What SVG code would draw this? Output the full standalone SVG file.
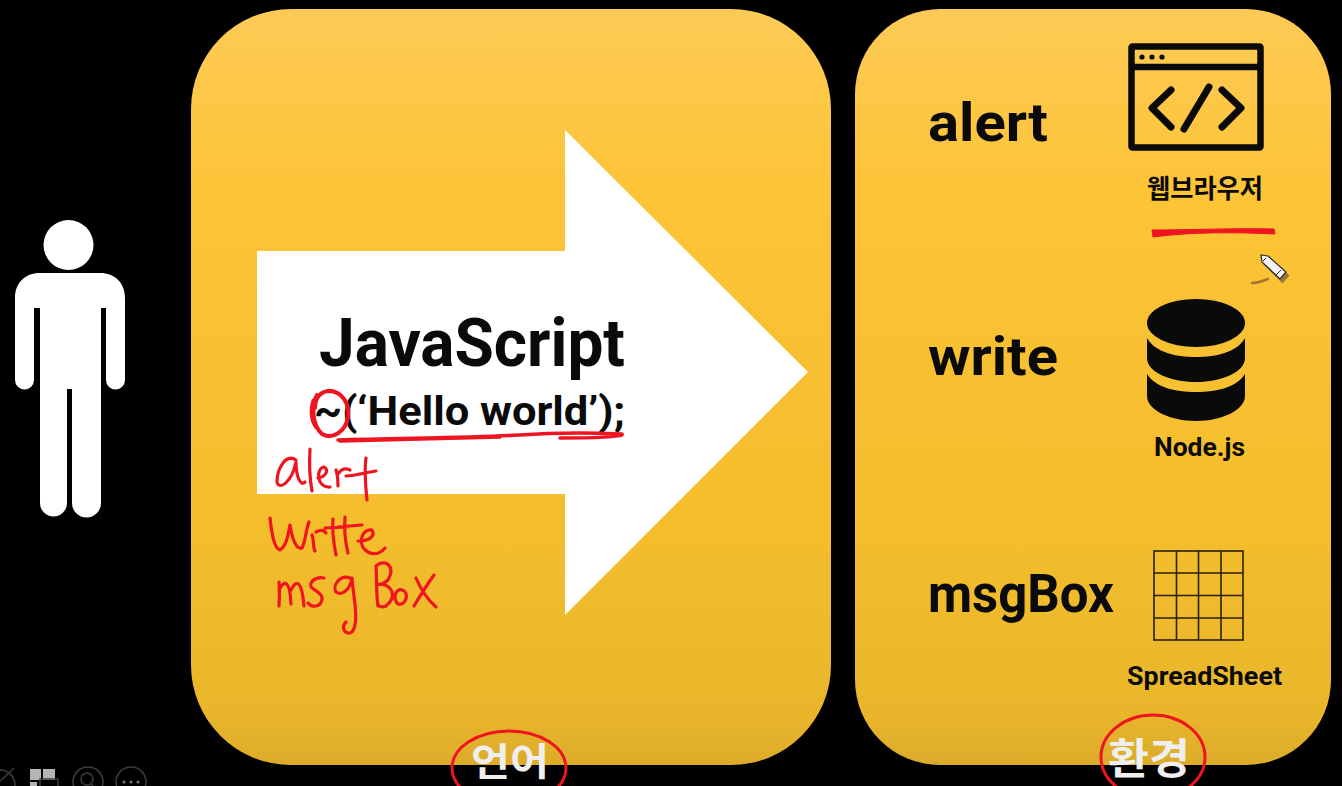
<svg xmlns="http://www.w3.org/2000/svg" width="1342" height="786" viewBox="0 0 1342 786">
<style>
.t{font-family:"Roboto","Liberation Sans",sans-serif;font-weight:700;fill:#0a0a0a}
.k{font-family:"Noto Sans CJK KR","Noto Sans",sans-serif;font-weight:700}
.ink{fill:none;stroke:#ee1420;stroke-linecap:round;stroke-linejoin:round}
.ui{fill:none;stroke:#3d3d3d;stroke-width:1.5}
</style>
<defs>
<linearGradient id="g" x1="0" y1="0" x2="0" y2="1">
<stop offset="0" stop-color="#fdca56"/><stop offset="0.25" stop-color="#fdc436"/><stop offset="0.7" stop-color="#f3bd2c"/><stop offset="0.93" stop-color="#e9b62b"/><stop offset="1" stop-color="#dcab2a"/>
</linearGradient>
</defs>
<rect width="1342" height="786" fill="#000"/>
<g id="person" fill="#fff">
<circle cx="68.500" cy="245" r="25"/>
<path d="M40 273H100C115 273 125 283 125 298V380A9.500 9.500 0 0 1 106 380V308H101V503A14.500 14.500 0 0 1 72 503V389H67V503A13.500 13.500 0 0 1 40 503V308H34V380A9.500 9.500 0 0 1 15 380V298C15 283 25 273 40 273Z"/>
</g>
<g id="language-panel">
<rect x="191" y="9" width="640" height="756" rx="100" fill="url(#g)"/>
<path id="arrow" d="M257 251H565V130L808 372L565 615V494H257Z" fill="#fff"/>
<text class="t" x="319" y="366" font-size="67" textLength="306" lengthAdjust="spacingAndGlyphs">JavaScript</text>
<text class="t" x="314" y="425" font-size="41" textLength="311" lengthAdjust="spacingAndGlyphs">~(‘Hello world’);</text>
<text class="k" x="471" y="775" font-size="38" fill="#efefef" textLength="78" lengthAdjust="spacingAndGlyphs">언어</text>
</g>
<g id="environment-panel">
<rect x="855" y="9" width="476" height="756" rx="85" fill="url(#g)"/>
<text class="t" x="928" y="141" font-size="54" textLength="120" lengthAdjust="spacingAndGlyphs">alert</text>
<text class="t" x="928" y="375" font-size="54" textLength="130" lengthAdjust="spacingAndGlyphs">write</text>
<text class="t" x="928" y="612" font-size="54" textLength="186" lengthAdjust="spacingAndGlyphs">msgBox</text>
<text class="k" x="1205" y="198" font-size="26" text-anchor="middle" fill="#0a0a0a" textLength="116" lengthAdjust="spacingAndGlyphs">웹브라우저</text>
<text class="t" x="1154" y="456" font-size="26" textLength="91" lengthAdjust="spacingAndGlyphs">Node.js</text>
<text class="t" x="1127" y="685" font-size="26" textLength="155" lengthAdjust="spacingAndGlyphs">SpreadSheet</text>
<text class="k" x="1108" y="774" font-size="42" fill="#efefef" textLength="82" lengthAdjust="spacingAndGlyphs">환경</text>
</g>
<g id="browser-icon">
<rect x="1131.500" y="46.500" width="129" height="101" rx="1" fill="none" stroke="#0a0a0a" stroke-width="6.500"/>
<path d="M1132 67H1260" stroke="#0a0a0a" stroke-width="6.500"/>
<circle cx="1142" cy="57" r="2.600" fill="#0a0a0a"/><circle cx="1152" cy="57" r="2.600" fill="#0a0a0a"/><circle cx="1162" cy="57" r="2.600" fill="#0a0a0a"/>
<path d="M1171 90L1152 108L1171 127M1222 90L1241 108L1222 127M1209 87L1184 129" fill="none" stroke="#0a0a0a" stroke-width="7" stroke-linecap="round" stroke-linejoin="round"/>
</g>
<g id="database-icon" fill="#0a0a0a">
<ellipse cx="1196" cy="323" rx="49" ry="24"/>
<path d="M1147 338C1155 352 1175 357 1196 357C1217 357 1237 352 1245 338V358C1245 372 1222 382 1196 382C1170 382 1147 372 1147 358Z"/>
<path d="M1147 374C1155 387 1175 392 1196 392C1217 392 1237 387 1245 374V396C1245 410 1222 421 1196 421C1170 421 1147 410 1147 396Z"/>
</g>
<g id="spreadsheet-icon" fill="none" stroke="#2a1f08" stroke-width="1.600">
<rect x="1154" y="551" width="89" height="89"/>
<path d="M1176.500 551V640M1198.500 551V640M1221 551V640M1154 573H1243M1154 595.500H1243M1154 618H1243"/>
</g>
<g id="annotations">
<path class="ink" stroke-width="4" d="M317 395C311 405 312 425 322 434C332 440 345 432 348 418C350 403 342 392 330 391C322 391 315 396 315 408"/>
<path class="ink" stroke-width="2.500" d="M313 400C309 410 311 422 316 428M326 391C334 388 342 394 346 402"/>
<path class="ink" stroke-width="3.500" d="M338 440C400 438 470 438 520 435C560 432 600 433 622 434C625 437 590 438 560 438M340 441C400 440 450 438 500 437"/>
<path class="ink" stroke-width="3.200" d="M296 460C285 453 277 470 277 482C279 491 292 482 296 462C296 475 300 487 305 482M310 449C309 465 310 480 312 491M318 478C325 477 330 470 324 467C316 468 316 488 330 487M336 470C338 476 338 482 338 486M338 474C342 468 346 468 350 470M346 476C355 476 368 472 376 471M366 458C364 472 366 490 367 500"/>
<path class="ink" stroke-width="3.200" d="M270 518C272 535 274 548 280 550C287 545 288 535 290 525C292 538 296 550 302 548C306 540 306 528 309 522M312 535C314 540 313 548 315 551M316 532C320 530 324 530 326 533M333 519C332 530 334 545 336 555M325 528L347 527M345 517C344 530 346 545 348 553M338 527L362 525M358 541C368 541 376 537 372 530C362 528 356 545 368 552C376 556 382 552 385 548"/>
<path class="ink" stroke-width="3.200" d="M279 582C280 592 279 602 279 606M279 590C285 578 290 582 291 604M291 590C297 578 302 582 304 606M324 578C314 576 308 584 312 588C318 592 326 596 320 604C316 608 310 606 308 603M350 578C340 574 332 586 336 592C342 596 350 590 352 578C353 596 360 622 352 632C346 636 340 628 346 622M376 566C377 580 376 594 378 606M376 566C385 558 396 566 388 580C382 586 378 584 378 584C392 584 398 596 386 606C382 608 378 606 378 604M402 590C396 588 392 598 398 604C406 606 410 592 402 590M416 578C421 590 428 600 436 607M434 575C426 586 420 596 414 606"/>
<ellipse class="ink" stroke-width="3" cx="509" cy="768" rx="57" ry="37"/>
<ellipse class="ink" stroke-width="3" cx="1153" cy="757" rx="52" ry="42"/>
<path d="M1152 230C1190 230 1235 228 1274 229L1275 234C1235 232 1190 232 1153 237Z" fill="#ee1420" stroke="#ee1420" stroke-width="1"/>
<path d="M1252 283C1258 283 1262 281 1268 279" fill="none" stroke="#a87530" stroke-width="2.500" stroke-linecap="round"/>
<g id="pencil-cursor">
<path d="M1261 255L1268 255L1288 274L1281 282L1262 263Z" fill="#333" opacity="0.500" transform="translate(1.500 1.500)"/>
<path d="M1261 255L1268 256L1286 272L1280 279L1262 262Z" fill="#f2f2f2" stroke="#2a2a2a" stroke-width="1.200"/>
<path d="M1266 258L1263 261M1281 270L1276 275" stroke="#2a2a2a" stroke-width="1"/>
</g>
</g>
<g id="toolbar">
<circle class="ui" cx="0" cy="785" r="15"/><path class="ui" d="M-4 785L14 768"/>
<path fill="#b5b5b5" d="M30 769H41V780H30ZM43 769H55V780H43ZM30 782H37V786H30Z"/><rect class="ui" x="40" y="779" width="18" height="14" fill="#000" stroke="#999"/>
<circle class="ui" cx="88" cy="782" r="15"/><circle class="ui" cx="87" cy="779" r="6"/><path class="ui" d="M91 784L97 790"/>
<circle class="ui" cx="131" cy="782" r="15"/><circle cx="124" cy="782" r="1.500" fill="#777"/><circle cx="131" cy="782" r="1.500" fill="#777"/><circle cx="138" cy="782" r="1.500" fill="#777"/>
</g>
</svg>
